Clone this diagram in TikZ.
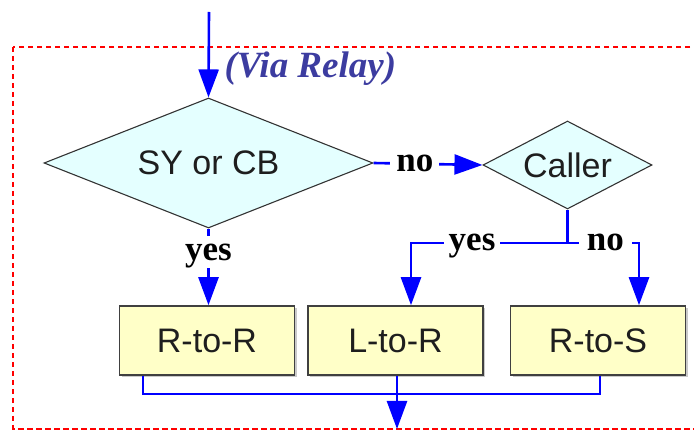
\documentclass[tikz,border=0pt]{standalone}
\usepackage{fontspec}
\setmainfont{Liberation Serif}
\newfontfamily\arialf{Liberation Sans}
\usetikzlibrary{shapes.geometric,arrows.meta,shadows}
\definecolor{flowblue}{RGB}{0,0,255}
\definecolor{relayblue}{RGB}{60,60,160}
\definecolor{decfill}{RGB}{228,255,255}
\definecolor{procfill}{RGB}{255,255,200}
\definecolor{txtgray}{RGB}{30,30,30}
\tikzset{
  flowline/.style={draw=flowblue, line width=2.6pt},
  flowarrow/.style={flowline, -{Triangle[length=28pt,width=20pt]}},
  decision/.style={diamond, draw=black!80, line width=1.1pt, fill=decfill, inner sep=0pt,
    font=\arialf\fontsize{34}{38}\selectfont, text=txtgray},
  process/.style={rectangle, draw=black!75, line width=1.6pt, fill=procfill,
    minimum width=175pt, minimum height=69pt, inner sep=0pt,
    font=\arialf\fontsize{34}{38}\selectfont, text=txtgray,
    drop shadow={shadow xshift=2pt, shadow yshift=-2pt, fill=black!35, opacity=0.6}},
  branchlabel/.style={fill=white, inner xsep=6pt, inner ysep=3pt,
    text height=16pt, text depth=0pt,
    font=\bfseries\fontsize{35}{40}\selectfont, text=black},
  frame/.style={draw=red, line width=2.5pt, dash pattern=on 5.5pt off 3.5pt}
}
\begin{document}
\begin{tikzpicture}[x=1pt,y=-1pt]
\useasboundingbox (0,0) rectangle (694,430);
\clip (0,0) rectangle (694,430);
\draw[frame] (13,47) rectangle (730,429);
% nodes
\node[decision, shape aspect=2.53, minimum width=329pt, minimum height=130pt] (sy) at (208.5,163) {SY or CB};
\node[decision, shape aspect=1.92, minimum width=169pt, minimum height=88pt] (caller) at (567.5,165) {Caller};
\node[process] (rr) at (207,340.5) {R-to-R};
\node[process] (lr) at (395.5,340.5) {L-to-R};
\node[process] (rs) at (598,340.5) {R-to-S};
\node[anchor=west, text=relayblue, font=\bfseries\itshape\fontsize{37}{42}\selectfont] (via) at (221,69) {(Via Relay)};
% coordinates
\coordinate (start) at (209,12);
\coordinate (cj) at (567.5,243);
\coordinate (cyes) at (411,243);
\coordinate (cno) at (639,243);
\coordinate (b1) at (143,394);
\coordinate (b3) at (600,394);
\coordinate (bout) at (397,429);
% connectors
\draw[flowarrow] (start) -- (sy.north);
\draw[flowarrow] (sy.east) -- node[branchlabel, pos=0.38] {no} (caller.west);
\draw[flowarrow] (sy.south) -- node[branchlabel, pos=0.31, inner ysep=8pt] {yes} (rr.north -| sy.south);
\draw[flowline] (caller.south) -- (cj);
\draw[flowarrow] (cj) -- node[branchlabel, pos=0.61, inner xsep=5pt] {yes} (cyes) -- (lr.north -| cyes);
\draw[flowarrow] (cj) -- node[branchlabel, pos=0.53, inner xsep=8pt] {no} (cno) -- (rs.north -| cno);
\draw[flowline] (rr.south -| b1) -- (b1) -- (b3) -- (rs.south -| b3);
\draw[flowarrow] (lr.south -| bout) -- (bout);
\end{tikzpicture}
\end{document}
